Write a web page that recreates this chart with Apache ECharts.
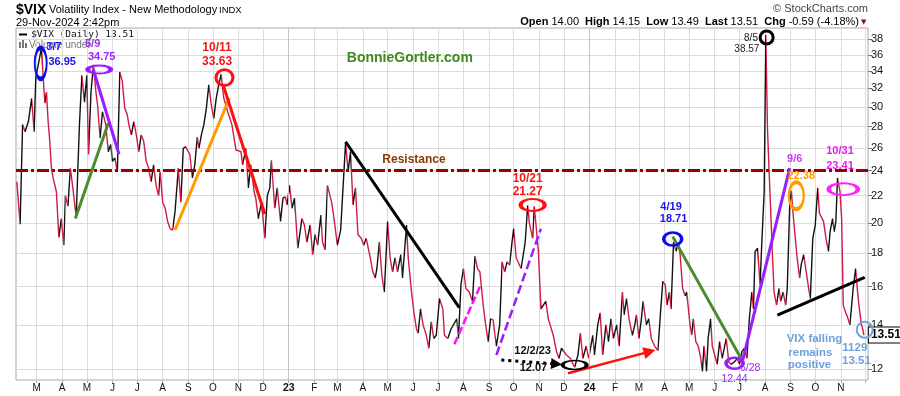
<!DOCTYPE html>
<html>
<head>
<meta charset="utf-8">
<script src="https://cdn.jsdelivr.net/npm/echarts@6/dist/echarts.min.js"></script>
<style>
html,body{margin:0;padding:0;background:#fff;}
#chart{width:900px;height:396px;}
</style>
</head>
<body>
<div id="chart"></div>
<script>
// ================= DATA =================
// $VIX daily closes (sampled swings read from the chart), by year
const days2022 = ['02-05','02-09','02-12','02-15','02-19','02-23','02-26','02-28','03-07','03-09','03-11','03-13','03-15','03-17','03-19','03-21','03-25','03-28','03-31','04-03','04-05','04-08','04-11','04-14','04-18','04-22','04-25','04-28','05-01','05-03','05-06','05-09','05-12','05-14','05-17','05-20','05-24','05-27','05-30','06-01','06-04','06-07','06-10','06-13','06-16','06-19','06-21','06-24','06-27','06-30','07-03','07-06','07-09','07-12','07-15','07-18','07-21','07-24','07-27','07-29','08-01','08-04','08-07','08-10','08-13','08-16','08-20','08-23','08-26','08-29','09-03','09-06','09-09','09-12','09-14','09-17','09-20','09-23','09-26','09-29','10-02','10-05','10-08','10-11','10-14','10-19','10-24','10-29','11-04','11-06','11-10','11-13','11-16','11-20','11-22','11-25','11-29','12-03','12-06','12-09','12-11','12-15','12-18','12-22','12-25','12-28','12-30'];
const vix2022 = [23.1,19.9,28.2,27.5,28.5,30.9,27.5,33.2,36.95,33.2,30.4,31.6,28.5,26.6,24.2,23.4,22.3,19.0,20.3,18.5,22.0,21.2,24.2,22.6,20.4,28.2,33.5,30.5,33.5,25.4,31.6,34.75,31.6,30.2,26.9,29.5,28.2,25.65,26.3,24.8,25.1,23.9,33.9,32.8,29.85,29.2,28.2,27.2,28.5,27.2,25.65,27.2,26.6,24.8,24.2,23.1,24.5,22.8,22.0,23.9,21.5,21.05,20.1,19.6,19.5,20.8,24.2,21.5,25.95,26.1,25.4,23.4,24.5,27.0,25.95,27.2,28.2,29.85,32.4,30.2,28.8,30.9,32.4,33.63,31.0,29.5,28.2,25.8,25.65,24.5,25.95,22.6,24.5,22.3,21.8,20.3,21.5,18.95,22.0,22.6,24.9,21.05,22.6,20.1,21.8,21.9,21.3];

const days2023 = ['01-02','01-05','01-08','01-12','01-17','01-20','01-23','01-27','01-30','02-02','02-05','02-09','02-11','02-14','02-17','02-22','02-25','03-01','03-05','03-11','03-14','03-17','03-20','03-23','03-26','03-30','04-02','04-05','04-10','04-13','04-16','04-18','04-21','04-24','04-27','05-01','05-04','05-07','05-10','05-13','05-17','05-19','05-24','05-26','05-30','06-02','06-05','06-07','06-10','06-13','06-17','06-20','06-23','06-26','06-29','07-03','07-07','07-09','07-13','07-17','07-24','07-26','07-29','08-01','08-04','08-08','08-12','08-15','08-18','08-21','08-25','08-28','08-31','09-03','09-06','09-08','09-10','09-14','09-17','09-20','09-23','09-26','09-29','10-01','10-04','10-10','10-15','10-18','10-20','10-24','10-26','10-31','11-03','11-06','11-09','11-12','11-18','11-22','11-25','11-28','11-30','12-04','12-09','12-12','12-14','12-18','12-21','12-24','12-28','12-31'];
const vix2023 = [22.8,21.05,21.8,18.3,20.3,19.85,18.7,19.85,17.9,19.2,18.5,20.55,18.7,18.2,22.8,21.5,20.3,18.5,19.5,26.5,23.9,25.65,21.3,22.6,19.2,18.95,18.5,18.95,17.7,16.85,16.5,17.05,18.7,16.65,15.7,20.1,17.7,16.85,17.7,16.85,17.9,16.5,19.85,17.7,15.7,14.6,13.8,13.6,14.8,14.0,13.5,12.9,14.15,13.35,13.5,15.35,14.8,13.5,13.35,13.8,14.3,13.35,16.1,17.05,15.9,15.7,15.2,17.8,17.05,16.85,15.0,14.0,13.2,14.3,14.25,13.6,13.0,14.0,17.45,16.85,17.45,17.25,18.7,19.6,17.7,17.05,18.7,21.27,20.0,18.95,21.2,18.1,14.8,15.0,15.2,14.3,13.5,12.75,12.45,12.9,12.95,12.6,12.45,12.2,12.07,12.6,13.6,12.45,13.0,12.45];

const days2024 = ['01-05','01-07','01-11','01-14','01-17','01-21','01-24','01-27','01-30','02-03','02-06','02-10','02-12','02-15','02-18','02-22','02-25','02-27','03-01','03-04','03-06','03-10','03-13','03-16','03-20','03-24','03-27','03-30','04-02','04-04','04-07','04-09','04-12','04-15','04-18','04-20','04-23','04-26','04-28','05-02','05-04','05-06','05-09','05-12','05-15','05-17','05-19','05-22','05-24','05-27','05-29','06-04','06-07','06-10','06-15','06-18','06-21','06-25','06-28','07-01','07-04','07-07','07-10','07-13','07-16','07-18','07-20','07-23','07-26','07-28','07-31','08-02','08-04','08-06','08-08','08-10','08-12','08-15','08-18','08-20','08-23','08-26','08-28','08-31','09-02','09-04','09-06','09-09','09-12','09-14','09-17','09-20','09-23','09-25','09-28','10-01','10-04','10-06','10-11','10-14','10-17','10-19','10-22','10-24','10-26','10-28','10-31','11-02','11-04','11-07','11-09','11-12','11-16','11-19','11-21','11-23','11-26','11-27','11-29'];
const vix2024 = [13.5,12.6,14.0,14.6,12.6,14.0,13.2,14.3,13.35,14.0,13.0,15.7,14.5,15.35,14.3,13.5,14.0,14.5,13.35,14.3,15.2,14.0,14.3,13.35,13.0,12.8,14.5,16.3,16.1,15.0,15.7,14.8,18.71,18.1,18.7,17.9,15.9,15.5,15.7,14.0,13.5,14.3,13.2,13.0,12.45,11.9,13.0,11.9,13.35,14.3,13.0,12.2,13.2,12.45,13.35,12.3,12.2,12.3,12.44,12.2,12.75,12.9,12.45,14.3,15.7,14.8,18.1,18.3,16.1,18.5,22.3,38.57,27.8,23.9,20.7,17.9,15.7,15.0,15.9,15.2,15.7,15.0,15.9,21.3,22.38,20.7,19.4,17.7,16.5,17.3,17.9,16.85,15.9,15.35,18.95,19.85,22.6,20.7,20.1,18.95,18.1,19.4,20.3,19.4,20.1,23.41,22.3,20.3,15.0,14.6,14.4,14.0,15.9,17.05,15.9,15.0,14.0,13.9,13.51];

// axis ticks
const yTicks = [12,14,16,18,20,22,24,26,28,30,32,34,36,38];
const xTickDates = ['2022-03-01','2022-04-01','2022-05-01','2022-06-01','2022-07-01','2022-08-01','2022-09-01','2022-10-01','2022-11-01','2022-12-01',
  '2023-01-01','2023-02-01','2023-03-01','2023-04-01','2023-05-01','2023-06-01','2023-07-01','2023-08-01','2023-09-01','2023-10-01','2023-11-01','2023-12-01',
  '2024-01-01','2024-02-01','2024-03-01','2024-04-01','2024-05-01','2024-06-01','2024-07-01','2024-08-01','2024-09-01','2024-10-01','2024-11-01','2024-12-01'];
const xTickLabels = ['M','A','M','J','J','A','S','O','N','D',
  '23','F','M','A','M','J','J','A','S','O','N','D',
  '24','F','M','A','M','J','J','A','S','O','N',''];
const xRange = ['2022-02-04','2024-12-04'];
const yRange = [11.545, 39.53];
const yearStarts = ['2023-01-01','2024-01-01'];

const resistanceLevel = 24.1;
const lastClose = 13.51;
const quoteNames = ['Open','High','Low','Last','Chg'];
const quoteValues = ['14.00','14.15','13.49','13.51','-0.59 (-4.18%)'];

// hand-drawn trend lines: [startDate, startValue, endDate, endValue]
const trendLines = [
  ['2022-04-17',20.3,'2022-05-27',28.33],   // green 2022
  ['2022-05-09',34.13,'2022-06-09',25.42],  // purple 2022
  ['2022-08-16',19.51,'2022-10-21',30.95],  // orange 2022
  ['2022-10-13',32.5,'2022-12-03',20.63],   // red 2022
  ['2023-03-11',26.56,'2023-07-27',14.87],  // black 2023
  ['2023-07-21',13.08,'2023-08-21',16.0],   // magenta dashed 2023
  ['2023-09-10',12.6,'2023-11-03',19.58],   // purple dashed 2023
  ['2024-04-11',19.06,'2024-07-04',12.38],  // green 2024
  ['2024-07-05',12.38,'2024-08-31',24.21],  // purple 2024
  ['2024-08-16',14.49,'2024-11-30',16.53]   // black support 2024
];
const arrowLines = [
  ['2023-12-06',11.82,'2024-03-14',12.75],  // red arrow
  ['2023-09-16',12.38,'2023-11-22',12.21]   // dotted black arrow
];
// circled points: centre date / value
const ringDates  = ['2022-03-06','2022-05-16','2022-10-15','2023-10-24','2023-12-14','2024-04-11','2024-06-25','2024-08-03','2024-09-08','2024-11-04','2024-11-30'];
const ringValues = [34.94,34.19,33.23,21.29,12.17,18.9,12.24,38.24,21.99,22.5,13.76];

// text notes: [date, value, text]
const blueNotes    = [['2022-03-22',36.99,'3/7'],['2022-04-01',35.16,'36.95'],['2024-04-09',21.16,'4/19'],['2024-04-12',20.25,'18.71']];
const purpleNotes  = [['2022-05-08',37.38,'5/9'],['2022-05-19',35.72,'34.75']];
const purpleThin   = [['2024-07-14',12.03,'6/28'],['2024-06-25',11.57,'12.44']];
const redNotes     = [['2022-10-06',36.86,'10/11'],['2022-10-06',35.10,'33.63'],['2023-10-18',23.32,'10/21'],['2023-10-18',22.28,'21.27']];
const blackNotes   = [['2023-10-24',12.78,'12/2/23'],['2023-10-25',12.04,'12.07']];
const blackThin    = [['2024-07-15',38.13,'8/5'],['2024-07-10',36.69,'38.57']];
const violetNotes  = [['2024-09-06',24.98,'9/6']];
const orangeNotes  = [['2024-09-14',23.56,'22.38']];
const magentaNotes = [['2024-10-31',25.71,'10/31'],['2024-10-31',24.43,'23.41']];
const skyNotes     = [['2024-09-30',13.31,'VIX falling'],['2024-09-25',12.71,'remains'],['2024-09-24',12.17,'positive'],['2024-11-18',12.93,'1129'],['2024-11-20',12.35,'13.51']];
const brownNotes   = [['2023-06-02',24.91,'Resistance']];
const siteNotes    = [['2023-05-28',35.60,'BonnieGortler.com']];

// ================= CHART =================
const FONT = '"Liberation Sans", Arial, sans-serif';
const UP = '#111111', DOWN = '#cc1d44';
const ts = s => new Date(s + 'T00:00:00').getTime();
const L = Math.log;

const vixDates = [].concat(days2022.map(d => '2022-' + d), days2023.map(d => '2023-' + d), days2024.map(d => '2024-' + d));
const vixValues = [].concat(vix2022, vix2023, vix2024);
const pts = vixDates.map((d, i) => [ts(d), L(vixValues[i])]);

const pieces = [];
for (let i = 0; i < pts.length - 1; i++) {
  pieces.push({ gt: pts[i][0], lte: pts[i + 1][0], color: vixValues[i + 1] > vixValues[i] ? UP : DOWN });
}

const tickLabelMap = {};
xTickDates.forEach((d, i) => { tickLabelMap[ts(d)] = xTickLabels[i]; });
const findLabel = v => {
  let best = '', bd = Infinity;
  for (const k in tickLabelMap) { const dd = Math.abs(+k - v); if (dd < bd) { bd = dd; best = tickLabelMap[k]; } }
  return bd < 86400000 ? best : '';
};

const lineLooks = [
  { color: '#4b8b2b', width: 3, type: 'solid' },
  { color: '#9a1cff', width: 3, type: 'solid' },
  { color: '#ff9a00', width: 3, type: 'solid' },
  { color: '#ff1010', width: 3, type: 'solid' },
  { color: '#000000', width: 3, type: 'solid' },
  { color: '#ff10ff', width: 2.5, type: [8, 3] },
  { color: '#9a1cff', width: 2.5, type: [9, 4] },
  { color: '#4b8b2b', width: 3, type: 'solid' },
  { color: '#9a1cff', width: 3, type: 'solid' },
  { color: '#000000', width: 3, type: 'solid' }
];
const arrowLooks = [
  { color: '#ff1010', width: 2.5, type: 'solid' },
  { color: '#000000', width: 3, type: [3, 4] }
];
const ringLooks = [
  { c: '#0a0af0', w: 12, h: 31, b: 3 },
  { c: '#9a1cff', w: 23, h: 8, b: 3 },
  { c: '#ff1010', w: 17, h: 16, b: 3 },
  { c: '#ff1010', w: 24, h: 12, b: 3 },
  { c: '#000000', w: 24, h: 9, b: 2.5 },
  { c: '#0a0af0', w: 18, h: 13, b: 3 },
  { c: '#9a1cff', w: 17, h: 11, b: 3 },
  { c: '#000000', w: 13, h: 13, b: 3 },
  { c: '#ff9a00', w: 15, h: 27, b: 3 },
  { c: '#ff22ff', w: 29, h: 12, b: 3 },
  { c: '#6fa2dc', w: 16, h: 16, b: 2 }
];
const noteLooks = [
  [blueNotes,    { color: '#1414f0', fontWeight: 'bold', fontSize: 11 }],
  [purpleNotes,  { color: '#9a2cf5', fontWeight: 'bold', fontSize: 11 }],
  [purpleThin,   { color: '#9a2cf5', fontWeight: 'normal', fontSize: 10.5 }],
  [redNotes,     { color: '#f01818', fontWeight: 'bold', fontSize: 12 }],
  [blackNotes,   { color: '#111111', fontWeight: 'bold', fontSize: 11 }],
  [blackThin,    { color: '#222222', fontWeight: 'normal', fontSize: 10 }],
  [violetNotes,  { color: '#c93df0', fontWeight: 'bold', fontSize: 11 }],
  [orangeNotes,  { color: '#ff9a00', fontWeight: 'bold', fontSize: 11 }],
  [magentaNotes, { color: '#e81ee8', fontWeight: 'bold', fontSize: 11 }],
  [skyNotes,     { color: '#6fa2dc', fontWeight: 'bold', fontSize: 11.5 }],
  [brownNotes,   { color: '#8b3a06', fontWeight: 'bold', fontSize: 12 }],
  [siteNotes,    { color: '#3f8a1f', fontWeight: 'bold', fontSize: 14 }]
];

const noteData = [];
noteLooks.forEach(([arr, st]) => {
  arr.forEach(n => {
    noteData.push({
      value: [ts(n[0]), L(n[1])],
      label: Object.assign({ show: true, position: 'inside', formatter: n[2], fontFamily: FONT, opacity: 1 }, st)
    });
  });
});

const ringData = ringDates.map((d, i) => ({
  value: [ts(d), L(ringValues[i])],
  symbolSize: [ringLooks[i].w, ringLooks[i].h],
  itemStyle: { color: 'rgba(0,0,0,0)', borderColor: ringLooks[i].c, borderWidth: ringLooks[i].b, opacity: 1 }
}));

const trendData = trendLines.map((t, i) => ({
  coords: [[ts(t[0]), L(t[1])], [ts(t[2]), L(t[3])]],
  lineStyle: Object.assign({ opacity: 1 }, lineLooks[i])
}));

const quoteText = quoteNames.map((n, i) => '{b|' + n + '} ' + quoteValues[i]).join('  ');

const chart = echarts.init(document.getElementById('chart'), null, { renderer: 'canvas' });
chart.setOption({
  animation: false,
  backgroundColor: '#ffffff',
  textStyle: { fontFamily: FONT },
  grid: { left: 16, right: 32, top: 28, bottom: 16, show: true, borderColor: '#a8a8a8', borderWidth: 1, backgroundColor: 'transparent', containLabel: false, outerBoundsMode: 'none' },
  xAxis: {
    type: 'value',
    min: ts(xRange[0]), max: ts(xRange[1]),
    axisLine: { show: false },
    axisTick: { show: true, customValues: xTickDates.map(ts), length: 3, lineStyle: { color: '#b0b0b0' } },
    axisLabel: {
      customValues: xTickDates.map(ts), margin: 3, fontSize: 10, color: '#111', fontFamily: FONT,
      formatter: v => { const s = findLabel(v); return /\d/.test(s) ? '{yr|' + s + '}' : s; },
      rich: { yr: { fontWeight: 'bold', fontSize: 10.5, color: '#111', fontFamily: FONT } }
    },
    splitLine: { show: true, lineStyle: { color: '#dcdcdc', width: 1 } }
  },
  yAxis: {
    type: 'value', position: 'right',
    min: L(yRange[0]), max: L(yRange[1]),
    axisLine: { show: false },
    axisTick: { show: true, customValues: yTicks.map(L), length: 4, lineStyle: { color: '#777' } },
    axisLabel: { customValues: yTicks.map(L), margin: 3, fontSize: 11, color: '#111', fontFamily: FONT, formatter: v => String(Math.round(Math.exp(v))) },
    splitLine: { show: true, lineStyle: { color: '#dcdcdc', width: 1 } }
  },
  visualMap: { type: 'piecewise', show: false, dimension: 0, seriesIndex: 0, pieces: pieces, outOfRange: { color: DOWN } },
  series: [
    {
      type: 'line', name: 'VIX', data: pts, symbol: 'none', showSymbol: false, z: 3,
      lineStyle: { width: 1.4 },
      endLabel: {
        show: true, formatter: lastClose.toFixed(2), color: '#000', fontWeight: 'bold', fontSize: 12, fontFamily: FONT,
        backgroundColor: '#fff', borderColor: '#000', borderWidth: 1, padding: [2, 2, 1, 2], distance: 5
      }
    },
    {
      type: 'line', data: [], z: 1, silent: true,
      markLine: { silent: true, symbol: ['none', 'none'], label: { show: false },
        lineStyle: { color: '#c4c4c4', width: 1, type: 'solid' },
        data: yearStarts.map(d => ({ xAxis: ts(d) })) }
    },
    {
      type: 'line', data: [], z: 5, silent: true,
      markLine: { silent: true, symbol: ['none', 'none'], label: { show: false },
        lineStyle: { color: '#990000', width: 3, type: [12, 3, 3, 3], opacity: 1 },
        data: [{ yAxis: L(resistanceLevel) }] }
    },
    {
      type: 'lines', coordinateSystem: 'cartesian2d', z: 6, silent: true,
      symbol: ['none', 'none'], lineStyle: { opacity: 1 }, data: trendData
    },
    {
      type: 'lines', coordinateSystem: 'cartesian2d', z: 6, silent: true,
      symbol: ['none', 'triangle'], symbolSize: 12, lineStyle: { opacity: 1 },
      data: [{ coords: [[ts(arrowLines[0][0]), L(arrowLines[0][1])], [ts(arrowLines[0][2]), L(arrowLines[0][3])]], lineStyle: Object.assign({ opacity: 1 }, arrowLooks[0]) }]
    },
    {
      type: 'lines', coordinateSystem: 'cartesian2d', z: 6, silent: true,
      symbol: ['none', 'triangle'], symbolSize: 11, lineStyle: { opacity: 1 },
      data: [{ coords: [[ts(arrowLines[1][0]), L(arrowLines[1][1])], [ts(arrowLines[1][2]), L(arrowLines[1][3])]], lineStyle: Object.assign({ opacity: 1 }, arrowLooks[1]) }]
    },
    {
      type: 'scatter', z: 7, silent: true, symbol: 'circle', clip: false, itemStyle: { opacity: 1 }, data: ringData
    },
    {
      type: 'scatter', z: 8, silent: true, symbol: 'circle', symbolSize: 1, clip: false,
      itemStyle: { color: 'rgba(0,0,0,0)', opacity: 1 }, data: noteData
    }
  ],
  graphic: [
    { type: 'text', x: 16, y: 10, style: { text: '$VIX', fontSize: 14, fontWeight: 'bold', fontFamily: FONT, fill: '#000', verticalAlign: 'middle' } },
    { type: 'text', x: 49, y: 10, style: { text: 'Volatility Index - New Methodology', fontSize: 11, fontFamily: FONT, fill: '#000', verticalAlign: 'middle' } },
    { type: 'text', x: 219, y: 10.5, style: { text: 'INDX', fontSize: 9.5, fontFamily: FONT, fill: '#000', verticalAlign: 'middle' } },
    { type: 'text', x: 16, y: 23, style: { text: '29-Nov-2024 2:42pm', fontSize: 11, fontFamily: FONT, fill: '#000', verticalAlign: 'middle' } },
    { type: 'text', x: 868, y: 9, style: { text: '\u00a9 StockCharts.com', fontSize: 11, fontFamily: FONT, fill: '#444', align: 'right', verticalAlign: 'middle' } },
    { type: 'text', x: 859, y: 22, style: { text: quoteText, fontSize: 11, fontFamily: FONT, fill: '#000', align: 'right', verticalAlign: 'middle',
        rich: { b: { fontWeight: 'bold', fontSize: 11, fontFamily: FONT, fill: '#000' } } } },
    { type: 'text', x: 861, y: 22, style: { text: '\u25bc', fontSize: 7, fontFamily: 'DejaVu Sans', fill: '#8b0a1a', verticalAlign: 'middle' } },
    { type: 'rect', shape: { x: 19, y: 33.5, width: 8, height: 2 }, style: { fill: '#000' } },
    { type: 'text', x: 31, y: 35, style: { text: '$VIX (Daily) 13.51', fontSize: 9.5, fontFamily: '"DejaVu Sans Mono", monospace', fill: '#111', verticalAlign: 'middle' } },
    { type: 'rect', shape: { x: 19, y: 42, width: 2, height: 6 }, style: { fill: '#777' } },
    { type: 'rect', shape: { x: 22, y: 40, width: 2, height: 8 }, style: { fill: '#777' } },
    { type: 'rect', shape: { x: 25, y: 43, width: 2, height: 5 }, style: { fill: '#777' } },
    { type: 'text', x: 29, y: 45.5, style: { text: 'Volume undef', fontSize: 10, fontFamily: FONT, fill: '#777', verticalAlign: 'middle' } }
  ]
});
</script>
</body>
</html>
